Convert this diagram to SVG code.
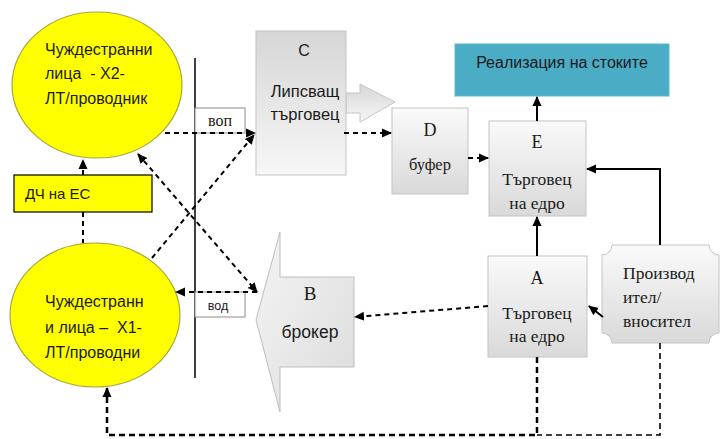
<svg xmlns="http://www.w3.org/2000/svg" width="720" height="439" viewBox="0 0 720 439">
<defs>
<linearGradient id="gDown" x1="0" y1="0" x2="0" y2="1"><stop offset="0" stop-color="#fafafa"/><stop offset="1" stop-color="#d9d9d9"/></linearGradient>
<linearGradient id="gUp" x1="0" y1="0" x2="0" y2="1"><stop offset="0" stop-color="#d6d6d6"/><stop offset="1" stop-color="#f7f7f7"/></linearGradient>
<linearGradient id="gB" x1="0" y1="0" x2="1" y2="1"><stop offset="0" stop-color="#f4f4f4"/><stop offset="1" stop-color="#dcdcdc"/></linearGradient>
<marker id="ah" markerUnits="userSpaceOnUse" markerWidth="10" markerHeight="10" viewBox="0 0 10 10" refX="9" refY="5" orient="auto-start-reverse"><path d="M0,0.5 L10,5 L0,9.5 Z" fill="#000"/></marker>
</defs>
<style>
.sans{font-family:"Liberation Sans","Noto Sans",Arial,sans-serif;fill:#1a1a1a}
.serif{font-family:"Liberation Serif","DejaVu Serif","Times New Roman",serif;fill:#1a1a1a}
.ell{fill:#ffff00;stroke:#a6a63a;stroke-width:1.2}
.box{fill:url(#gDown);stroke:#c4c4c4;stroke-width:1}
.dash{fill:none;stroke:#000;stroke-width:2;stroke-dasharray:5 4}
.solid{fill:none;stroke:#000;stroke-width:2}
</style>

<g id="ellipse-x2">
<ellipse class="ell" cx="97" cy="85" rx="85" ry="73"/>
<text class="sans" font-size="16" x="45" y="55">Чуждестранни</text>
<text class="sans" font-size="16" x="45" y="79" xml:space="preserve">лица  - Х2-</text>
<text class="sans" font-size="16" x="45" y="104">ЛТ/проводник</text>
</g>

<g id="ellipse-x1">
<ellipse class="ell" cx="95" cy="315" rx="85" ry="72"/>
<text class="sans" font-size="16" x="45" y="307">Чуждестранн</text>
<text class="sans" font-size="16" x="45" y="333" xml:space="preserve">и лица –  Х1-</text>
<text class="sans" font-size="16" x="45" y="358">ЛТ/проводни</text>
</g>

<g id="dch-es">
<rect x="14" y="175" width="138" height="37" fill="#ffff00" stroke="#000" stroke-width="1.2"/>
<text class="sans" font-size="15" x="25" y="199">ДЧ на ЕС</text>
</g>

<g id="border">
<line x1="195" y1="58" x2="195" y2="378" stroke="#000" stroke-width="1.5"/>
</g>

<g id="vop">
<rect x="195" y="108" width="50" height="25" fill="#fff" stroke="#8c8c8c" stroke-width="1"/>
<text class="serif" font-size="16" x="220" y="126" text-anchor="middle">воп</text>
</g>

<g id="vod">
<rect x="195" y="292" width="50" height="25" fill="#fff" stroke="#8c8c8c" stroke-width="1"/>
<text class="sans" font-size="12.5" x="218" y="310" text-anchor="middle">вод</text>
</g>

<g id="node-c">
<path d="M346,93 H360 V84 L395,102 L360,122 V113 H346 Z" fill="url(#gUp)" stroke="#c4c4c4" stroke-width="1"/>
<rect x="256" y="31" width="90" height="144" fill="url(#gUp)" stroke="#c4c4c4" stroke-width="1"/>
<text class="sans" font-size="16" x="304" y="56" text-anchor="middle">C</text>
<text class="sans" font-size="16.5" x="305" y="97" text-anchor="middle">Липсващ</text>
<text class="sans" font-size="16.5" x="305" y="120" text-anchor="middle">търговец</text>
</g>

<g id="node-d">
<rect class="box" x="392" y="108" width="76" height="86"/>
<text class="serif" font-size="18" x="430" y="136" text-anchor="middle">D</text>
<text class="serif" font-size="16.5" x="430" y="170" text-anchor="middle">буфер</text>
</g>

<g id="node-e">
<rect class="box" x="489" y="121" width="97" height="95"/>
<text class="serif" font-size="18" x="537" y="148" text-anchor="middle">E</text>
<text class="serif" font-size="17.5" x="537" y="185" text-anchor="middle">Търговец</text>
<text class="serif" font-size="17.5" x="537" y="209" text-anchor="middle">на едро</text>
</g>

<g id="realization">
<rect x="455" y="44" width="214" height="52" fill="#4bacc6" stroke="#5bb8d0" stroke-width="1"/>
<text class="sans" font-size="16" x="562" y="68" text-anchor="middle">Реализация на стоките</text>
</g>

<g id="node-a">
<rect class="box" x="488" y="256" width="99" height="101"/>
<text class="serif" font-size="18" x="537" y="284" text-anchor="middle">A</text>
<text class="serif" font-size="17.5" x="537" y="319" text-anchor="middle">Търговец</text>
<text class="serif" font-size="17.5" x="537" y="342" text-anchor="middle">на едро</text>
</g>

<g id="producer">
<path d="M612,245 H709 A10,10 0 0 0 719,255 V333 A10,10 0 0 0 709,343 H612 A10,10 0 0 0 602,333 V255 A10,10 0 0 0 612,245 Z" fill="url(#gDown)" stroke="#c4c4c4" stroke-width="1"/>
<text class="serif" font-size="17.5" x="623" y="279">Производ</text>
<text class="serif" font-size="17.5" x="623" y="303">ител/</text>
<text class="serif" font-size="17.5" x="623" y="327">вносител</text>
</g>

<g id="node-b">
<path d="M354,277 V367 H280 V412 L256,320 L280,232 V277 Z" fill="url(#gB)" stroke="#bdbdbd" stroke-width="1"/>
<text class="serif" font-size="19" x="310" y="300" text-anchor="middle">B</text>
<text class="sans" font-size="17.5" x="310" y="338" text-anchor="middle">брокер</text>
</g>

<g id="connectors">
<path class="dash" d="M83,175 V160" marker-end="url(#ah)"/>
<path class="dash" d="M83,212 V243"/>
<path class="dash" d="M165,133 H255" marker-end="url(#ah)"/>
<path class="dash" d="M152,258 L254,135" marker-end="url(#ah)"/>
<path class="dash" d="M138,154 L257,292" marker-start="url(#ah)" marker-end="url(#ah)"/>
<path class="dash" d="M257,292 H176" marker-end="url(#ah)"/>
<path class="dash" d="M344,133 H391" marker-end="url(#ah)"/>
<path class="dash" d="M468,158 H488" marker-end="url(#ah)"/>
<path class="dash" d="M488,306 L355,317" marker-end="url(#ah)"/>
<path fill="none" stroke="#000" stroke-width="2.5" stroke-dasharray="6 4" d="M537,357 V435 H107 V388" marker-end="url(#ah)"/>
<path fill="none" stroke="#000" stroke-width="1.6" stroke-dasharray="6 4" d="M660,343 V435 H537"/>
<path class="solid" d="M537,121 V97" marker-end="url(#ah)"/>
<path class="solid" d="M537,256 V217" marker-end="url(#ah)"/>
<path class="solid" d="M660,245 V169 H587" marker-end="url(#ah)"/>
<path class="solid" d="M603,317 L589,306" marker-end="url(#ah)"/>
</g>
</svg>
